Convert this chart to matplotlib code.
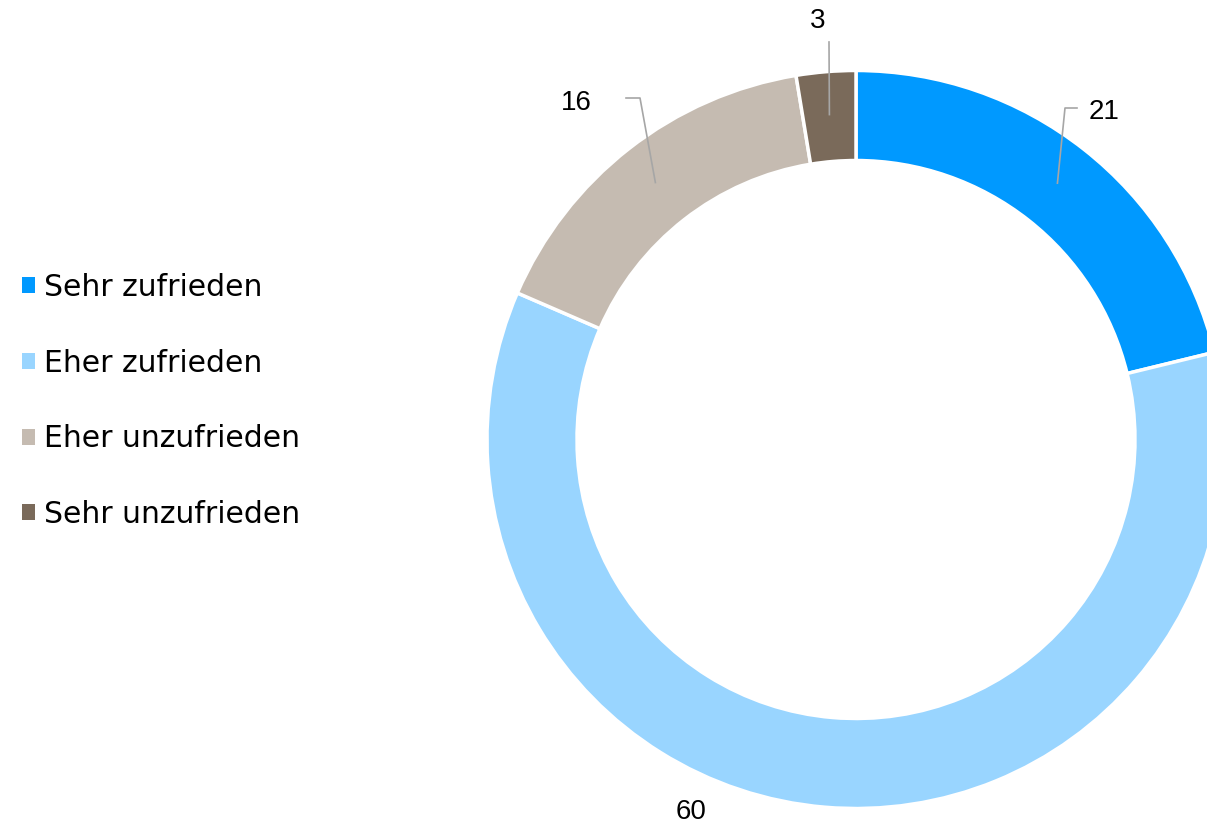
import numpy as np
import matplotlib
matplotlib.use('Agg')
import matplotlib.pyplot as plt
from matplotlib.patches import Patch

plt.rcParams['font.family'] = ['DejaVu Sans']

# satisfaction shares (%), shown rounded
labels = ['Sehr zufrieden', 'Eher zufrieden', 'Eher unzufrieden', 'Sehr unzufrieden']
values = [21.2, 60.3, 15.9, 2.6]
colors = ['#0099FF', '#99D5FF', '#C5BBB1', '#7A6A5A']

W, H = 1207, 826
fig = plt.figure(figsize=(W / 100, H / 100), dpi=100)
ax = fig.add_axes([0, 0, 1, 1])

cx, cy = 856, H - 439.5
R = 369
wedges, _ = ax.pie(values, colors=colors, startangle=90, counterclock=False,
                   radius=R, center=(cx, cy),
                   wedgeprops=dict(width=90, edgecolor='white', linewidth=2.5))
ax.set_xlim(0, W)
ax.set_ylim(0, H)
ax.set_aspect('equal')
ax.axis('off')

# value labels: elbow (x, y from top), text (x, y from top), alignment
lab_pos = [
    ((1065, 108), (1089, 112), 'left'),
    (None, (691, 812), 'center'),
    ((640, 98), (592, 103), 'right'),
    ((829, 42), (818, 21), 'center'),
]
for w, v, (elb, txt, ha) in zip(wedges, values, lab_pos):
    ang = np.deg2rad((w.theta1 + w.theta2) / 2)
    if elb is not None:
        ex, ey = elb
        sx, sy = cx + 326 * np.cos(ang), cy + 326 * np.sin(ang)
        hx = {'left': ex + 12, 'right': ex - 14, 'center': ex}[ha]
        ax.plot([sx, ex, hx], [sy, H - ey, H - ey], color='#A6A6A6', lw=1.2)
    ax.text(txt[0], H - txt[1], f'{v:.0f}', ha=ha, va='center', fontsize=20,
            family='Liberation Sans', color='black')

handles = [Patch(facecolor=c, edgecolor='none') for c in colors]
leg = ax.legend(handles, labels, loc='upper left', bbox_to_anchor=(22 / W, 1 - 273 / H),
                frameon=False, fontsize=21.5, handlelength=0.45, handleheight=0.45,
                handletextpad=0.3, labelspacing=1.56, borderpad=0, borderaxespad=0)
for t in leg.get_texts():
    t.set_color('black')

fig.savefig('out.png', dpi=100)
